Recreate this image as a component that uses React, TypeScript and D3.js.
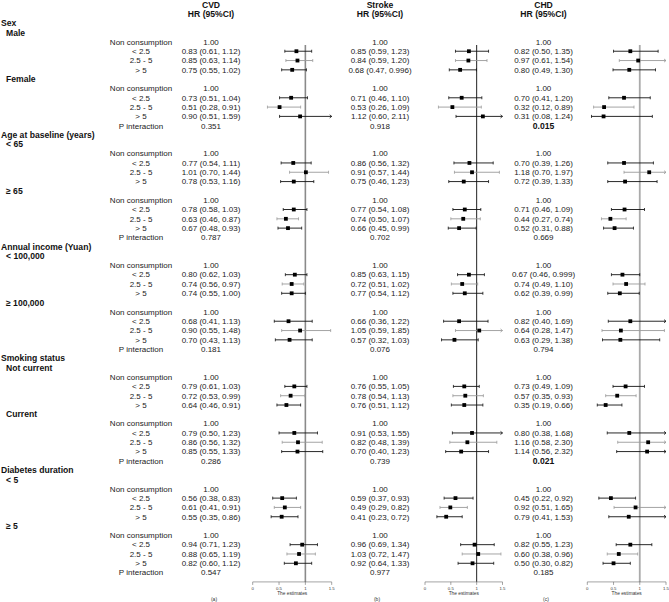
import React from 'react';
import * as d3 from 'd3';

const groupTitles = ['Sex', 'Age at baseline (years)', 'Annual income (Yuan)', 'Smoking status', 'Diabetes duration'];
const subgroupLabels = [
  ['Male', 'Female'],
  ['< 65', '≥ 65'],
  ['< 100,000', '≥ 100,000'],
  ['Not current', 'Current'],
  ['< 5', '≥ 5'],
];
const levelLabels = ['Non consumption', '< 2.5', '2.5 - 5', '> 5'];
const axisTicks = [0, 0.5, 1, 1.5];

// [HR, lower, upper] for < 2.5, 2.5 - 5, > 5 ; one block per subgroup
const cvdEstimates = [
  [[0.83, 0.61, 1.12], [0.85, 0.63, 1.14], [0.75, 0.55, 1.02]],
  [[0.73, 0.51, 1.04], [0.51, 0.28, 0.91], [0.90, 0.51, 1.59]],
  [[0.77, 0.54, 1.11], [1.01, 0.70, 1.44], [0.78, 0.53, 1.16]],
  [[0.78, 0.58, 1.03], [0.63, 0.46, 0.87], [0.67, 0.48, 0.93]],
  [[0.80, 0.62, 1.03], [0.74, 0.56, 0.97], [0.74, 0.55, 1.00]],
  [[0.68, 0.41, 1.13], [0.90, 0.55, 1.48], [0.70, 0.43, 1.13]],
  [[0.79, 0.61, 1.03], [0.72, 0.53, 0.99], [0.64, 0.46, 0.91]],
  [[0.79, 0.50, 1.23], [0.86, 0.56, 1.32], [0.85, 0.55, 1.33]],
  [[0.56, 0.38, 0.83], [0.61, 0.41, 0.91], [0.55, 0.35, 0.86]],
  [[0.94, 0.71, 1.23], [0.88, 0.65, 1.19], [0.82, 0.60, 1.12]],
];
const cvdP = [0.351, 0.787, 0.181, 0.286, 0.547];

const strokeEstimates = [
  [[0.85, 0.59, 1.23], [0.84, 0.59, 1.20], [0.68, 0.47, 0.996]],
  [[0.71, 0.46, 1.10], [0.53, 0.26, 1.09], [1.12, 0.60, 2.11]],
  [[0.86, 0.56, 1.32], [0.91, 0.57, 1.44], [0.75, 0.46, 1.23]],
  [[0.77, 0.54, 1.08], [0.74, 0.50, 1.07], [0.66, 0.45, 0.99]],
  [[0.85, 0.63, 1.15], [0.72, 0.51, 1.02], [0.77, 0.54, 1.12]],
  [[0.66, 0.36, 1.22], [1.05, 0.59, 1.85], [0.57, 0.32, 1.03]],
  [[0.76, 0.55, 1.05], [0.78, 0.54, 1.13], [0.76, 0.51, 1.12]],
  [[0.91, 0.53, 1.55], [0.82, 0.48, 1.39], [0.70, 0.40, 1.23]],
  [[0.59, 0.37, 0.93], [0.49, 0.29, 0.82], [0.41, 0.23, 0.72]],
  [[0.96, 0.69, 1.34], [1.03, 0.72, 1.47], [0.92, 0.64, 1.33]],
];
const strokeP = [0.918, 0.702, 0.076, 0.739, 0.977];

const chdEstimates = [
  [[0.82, 0.50, 1.35], [0.97, 0.61, 1.54], [0.80, 0.49, 1.30]],
  [[0.70, 0.41, 1.20], [0.32, 0.12, 0.89], [0.31, 0.08, 1.24]],
  [[0.70, 0.39, 1.26], [1.18, 0.70, 1.97], [0.72, 0.39, 1.33]],
  [[0.71, 0.46, 1.09], [0.44, 0.27, 0.74], [0.52, 0.31, 0.88]],
  [[0.67, 0.46, 0.999], [0.74, 0.49, 1.10], [0.62, 0.39, 0.99]],
  [[0.82, 0.40, 1.69], [0.64, 0.28, 1.47], [0.63, 0.29, 1.38]],
  [[0.73, 0.49, 1.09], [0.57, 0.35, 0.93], [0.35, 0.19, 0.66]],
  [[0.80, 0.38, 1.68], [1.16, 0.58, 2.30], [1.14, 0.56, 2.32]],
  [[0.45, 0.22, 0.92], [0.92, 0.51, 1.65], [0.79, 0.41, 1.53]],
  [[0.82, 0.55, 1.23], [0.60, 0.38, 0.96], [0.50, 0.30, 0.82]],
];
const chdP = [0.015, 0.669, 0.794, 0.021, 0.185];

type Row = { kind: 'group' | 'sub' | 'ref' | 'level' | 'p'; label: string; block: number; level: number; group: number };

const rows: Row[] = [];
groupTitles.forEach((title, g) => {
  rows.push({ kind: 'group', label: title, block: -1, level: -1, group: g });
  subgroupLabels[g].forEach((sub, s) => {
    const block = g * 2 + s;
    rows.push({ kind: 'sub', label: sub, block, level: -1, group: g });
    rows.push({ kind: 'ref', label: levelLabels[0], block, level: -1, group: g });
    for (let l = 0; l < 3; l++) rows.push({ kind: 'level', label: levelLabels[l + 1], block, level: l, group: g });
    if (s === 1) rows.push({ kind: 'p', label: 'P interaction', block, level: -1, group: g });
  });
});

const W = 669;
const H = 602;
const FONT = '"Liberation Sans", Arial, Helvetica, sans-serif';

const panels = [
  { name: 'CVD', est: cvdEstimates, p: cvdP, textX: 211, range: [252.7, 331.7], line: '#8a8a8a', lineW: 1.6, tag: '(a)', tagX: 214 },
  { name: 'Stroke', est: strokeEstimates, p: strokeP, textX: 380, range: [425, 502.5], line: '#222', lineW: 1, tag: '(b)', tagX: 377 },
  { name: 'CHD', est: chdEstimates, p: chdP, textX: 543.5, range: [587.3, 666], line: '#aaa', lineW: 1.8, tag: '(c)', tagX: 546 },
];

const fmt = (v: number) => {
  const s = v.toFixed(3);
  return s.endsWith('0') ? v.toFixed(2) : s;
};

export default function App() {
  const y = d3.scaleLinear().domain([0, rows.length - 1]).range([23.3, 572.6]);
  const axisY = y(rows.length);
  const lineTop = 45;

  return (
    <svg width={W} height={H} style={{ position: 'absolute', left: 0, top: 0, background: '#fff' }} fontFamily={FONT}>
      <rect width={W} height={H} fill="#fff" />

      {/* left labels */}
      {rows.map((r, i) => {
        if (r.kind === 'group')
          return <text key={i} x={1} y={y(i)} dy="0.35em" fontSize={8.6} fontWeight="bold" fill="#111">{r.label}</text>;
        if (r.kind === 'sub')
          return <text key={i} x={6} y={y(i)} dy="0.35em" fontSize={8.6} fontWeight="bold" fill="#111">{r.label}</text>;
        return <text key={i} x={141} y={y(i)} dy="0.35em" fontSize={8} textAnchor="middle" fill="#222">{r.label}</text>;
      })}

      {panels.map((pn) => {
        const x = d3.scaleLinear().domain([0, 1.5]).range(pn.range);
        return (
          <g key={pn.name}>
            <text x={pn.textX} y={4.5} dy="0.35em" fontSize={8.6} fontWeight="bold" textAnchor="middle" fill="#111">{pn.name}</text>
            <text x={pn.textX} y={13.6} dy="0.35em" fontSize={8.6} fontWeight="bold" textAnchor="middle" fill="#111">HR (95%CI)</text>

            {rows.map((r, i) => {
              if (r.kind === 'ref')
                return <text key={i} x={pn.textX} y={y(i)} dy="0.35em" fontSize={8} textAnchor="middle" fill="#222">1.00</text>;
              if (r.kind === 'p') {
                const pv = pn.p[r.group];
                return (
                  <text key={i} x={pn.textX} y={y(i)} dy="0.35em" fontSize={pv < 0.05 ? 8.6 : 8} fontWeight={pv < 0.05 ? 'bold' : 'normal'} textAnchor="middle" fill={pv < 0.05 ? '#111' : '#222'}>
                    {pv.toFixed(3)}
                  </text>
                );
              }
              if (r.kind === 'level') {
                const [hr, lo, hi] = pn.est[r.block][r.level];
                return (
                  <text key={i} x={pn.textX} y={y(i)} dy="0.35em" fontSize={8} textAnchor="middle" fill="#222">
                    {`${fmt(hr)} (${fmt(lo)}, ${fmt(hi)})`}
                  </text>
                );
              }
              return null;
            })}

            {/* reference line */}
            <line x1={x(1)} x2={x(1)} y1={lineTop} y2={axisY} stroke={pn.line} strokeWidth={pn.lineW} />

            {rows.map((r, i) => {
              if (r.kind !== 'level') return null;
              const [hr, lo, hi] = pn.est[r.block][r.level];
              const col = r.level === 1 ? '#9a9a9a' : '#111';
              const yy = y(i);
              const x0 = x(Math.max(lo, 0));
              const clipped = hi > 1.5;
              const x1 = x(Math.min(hi, 1.5));
              return (
                <g key={i}>
                  <line x1={x0} x2={x1} y1={yy} y2={yy} stroke={col} strokeWidth={0.9} />
                  <line x1={x0} x2={x0} y1={yy - 1.5} y2={yy + 1.5} stroke={col} strokeWidth={0.8} />
                  {clipped ? (
                    <path d={`M${x1 - 2},${yy - 1.6}L${x1},${yy}L${x1 - 2},${yy + 1.6}`} fill="none" stroke={col} strokeWidth={0.8} />
                  ) : (
                    <line x1={x1} x2={x1} y1={yy - 1.5} y2={yy + 1.5} stroke={col} strokeWidth={0.8} />
                  )}
                  <rect x={x(hr) - 1.9} y={yy - 1.9} width={3.8} height={3.8} fill="#000" />
                </g>
              );
            })}

            {/* axis */}
            <line x1={x(0)} x2={x(1.5)} y1={axisY} y2={axisY} stroke="#666" strokeWidth={0.6} />
            {axisTicks.map((t) => (
              <g key={t}>
                <line x1={x(t)} x2={x(t)} y1={axisY} y2={axisY + 3} stroke="#666" strokeWidth={0.6} />
                <text x={x(t)} y={axisY + 6.8} dy="0.35em" fontSize={4.3} textAnchor="middle" fill="#333">{String(t)}</text>
              </g>
            ))}
            <text x={(x(0) + x(1.5)) / 2} y={axisY + 11.6} dy="0.35em" fontSize={4.8} textAnchor="middle" fill="#333">The estimates</text>
            <text x={pn.tagX} y={599} dy="0.35em" fontSize={5} textAnchor="middle" fill="#333">{pn.tag}</text>
          </g>
        );
      })}
    </svg>
  );
}
